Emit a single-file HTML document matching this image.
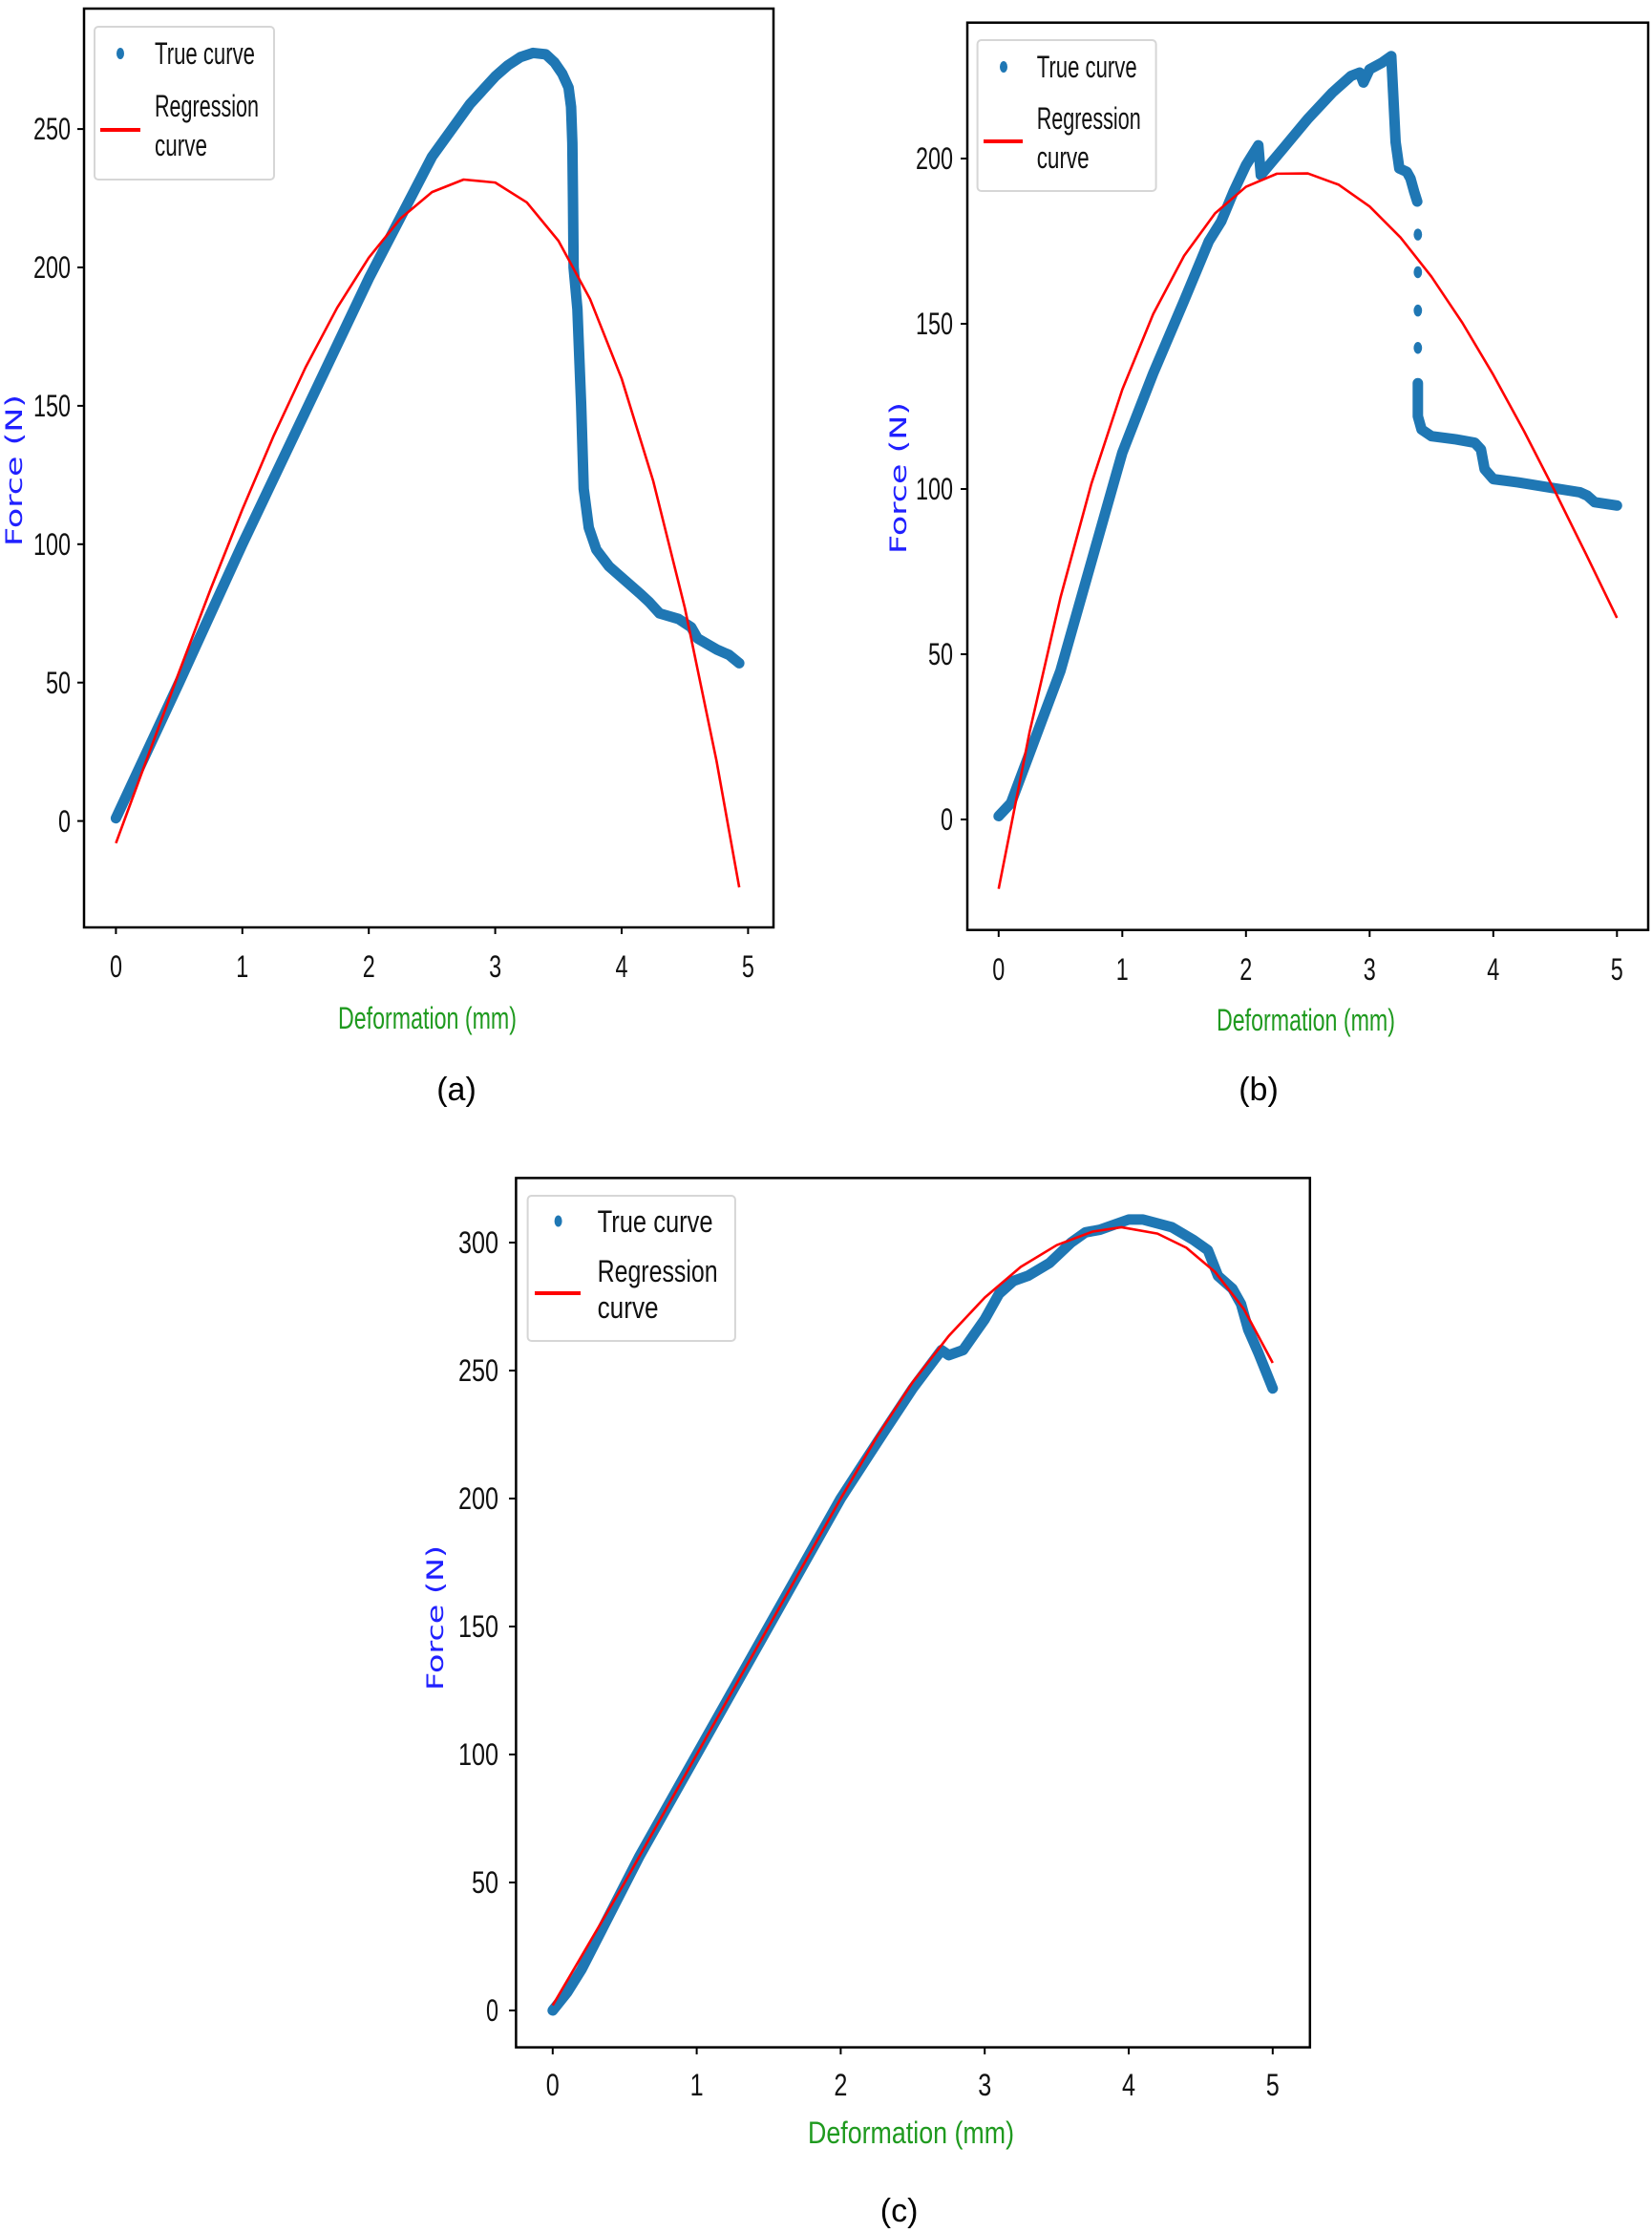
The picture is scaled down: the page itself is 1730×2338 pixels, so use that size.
<!DOCTYPE html>
<html><head><meta charset="utf-8"><style>
html,body{margin:0;padding:0;background:#fff;}
svg{display:block;}
.t{font-family:"Liberation Sans",sans-serif;font-size:32px;fill:#111;}
.yl{font-family:"DejaVu Sans","Liberation Sans",sans-serif;font-size:24px;fill:#2020ff;}
.xl{font-family:"Liberation Sans",sans-serif;font-size:32px;fill:#1f9a1f;}
.cap{font-family:"Liberation Sans",sans-serif;font-size:34px;fill:#000;}
.b{fill:none;stroke:#1f77b4;stroke-width:11;stroke-linejoin:round;stroke-linecap:round;}
.r{fill:none;stroke:#ff0000;stroke-width:2.6;stroke-linejoin:round;}
.ns{vector-effect:non-scaling-stroke;}
</style></head><body>
<svg width="1730" height="2338" viewBox="0 0 1730 2338" xmlns="http://www.w3.org/2000/svg">
<rect width="1730" height="2338" fill="#fff"/>

<!-- ===== Panel A ===== -->
<g transform="translate(121.4,859.6) scale(132.4,-2.898)">
<polyline class="b ns" points="0,1 0.5,50 1,100 1.5,148 2,196 2.5,240 2.8,259 3.0,269 3.1,273 3.2,276 3.3,277.5 3.4,277 3.47,274 3.53,270 3.58,265 3.6,258 3.61,245 3.615,225 3.62,200 3.65,185 3.68,150 3.7,120 3.74,106 3.8,98 3.9,92 4,88 4.15,82 4.22,79 4.3,75 4.45,73 4.55,70 4.6,66 4.75,62 4.85,60 4.93,57"/>
<polyline class="r ns" points="0,-8 0.25,23.05 0.5,53.86 0.75,83.88 1,112.57 1.25,139.43 1.5,163.9 1.75,185.44 2,203.53 2.25,217.64 2.5,227.21 2.75,231.74 3,230.67 3.25,223.48 3.5,209.62 3.75,188.59 4,159.82 4.25,122.79 4.5,76.96 4.75,21.81 4.93,-24"/>
</g>
<rect x="88" y="9" width="722" height="962" fill="none" stroke="#000" stroke-width="2.5"/>
<g stroke="#000" stroke-width="2">
<line x1="81" y1="859.6" x2="88" y2="859.6"/><line x1="81" y1="714.7" x2="88" y2="714.7"/><line x1="81" y1="569.8" x2="88" y2="569.8"/><line x1="81" y1="424.9" x2="88" y2="424.9"/><line x1="81" y1="280" x2="88" y2="280"/><line x1="81" y1="135.1" x2="88" y2="135.1"/>
<line x1="121.4" y1="971" x2="121.4" y2="978"/><line x1="253.8" y1="971" x2="253.8" y2="978"/><line x1="386.2" y1="971" x2="386.2" y2="978"/><line x1="518.6" y1="971" x2="518.6" y2="978"/><line x1="651" y1="971" x2="651" y2="978"/><line x1="783.4" y1="971" x2="783.4" y2="978"/>
</g>
<g class="t" text-anchor="end">
<text x="74" y="871" textLength="13" lengthAdjust="spacingAndGlyphs">0</text>
<text x="74" y="726" textLength="26" lengthAdjust="spacingAndGlyphs">50</text>
<text x="74" y="581" textLength="39" lengthAdjust="spacingAndGlyphs">100</text>
<text x="74" y="436" textLength="39" lengthAdjust="spacingAndGlyphs">150</text>
<text x="74" y="291" textLength="39" lengthAdjust="spacingAndGlyphs">200</text>
<text x="74" y="146" textLength="39" lengthAdjust="spacingAndGlyphs">250</text>
</g>
<g class="t">
<text x="115" y="1023" textLength="13" lengthAdjust="spacingAndGlyphs">0</text><text x="247.3" y="1023" textLength="13" lengthAdjust="spacingAndGlyphs">1</text><text x="379.7" y="1023" textLength="13" lengthAdjust="spacingAndGlyphs">2</text><text x="512.1" y="1023" textLength="13" lengthAdjust="spacingAndGlyphs">3</text><text x="644.5" y="1023" textLength="13" lengthAdjust="spacingAndGlyphs">4</text><text x="776.9" y="1023" textLength="13" lengthAdjust="spacingAndGlyphs">5</text>
</g>
<text class="xl" x="354" y="1077" textLength="187" lengthAdjust="spacingAndGlyphs">Deformation (mm)</text>
<text class="yl" transform="translate(23,572) rotate(-90)" textLength="159" lengthAdjust="spacingAndGlyphs">Force (N)</text>
<text class="cap" x="478" y="1152" text-anchor="middle">(a)</text>
<rect x="99" y="28" width="188" height="160" rx="4" fill="#fff" stroke="#d6d6d6" stroke-width="2"/>
<ellipse cx="126" cy="56" rx="4" ry="6" fill="#1f77b4"/>
<line x1="105" y1="136" x2="147" y2="136" stroke="#ff0000" stroke-width="4"/>
<g class="t"><text x="162" y="67" textLength="105" lengthAdjust="spacingAndGlyphs">True curve</text>
<text x="162" y="122" textLength="109" lengthAdjust="spacingAndGlyphs">Regression</text>
<text x="162" y="163" textLength="55" lengthAdjust="spacingAndGlyphs">curve</text></g>

<!-- ===== Panel B ===== -->
<g transform="translate(1045.8,858) scale(129.5,-3.46)">
<polyline class="b ns" points="0,1 0.1,5 0.25,20 0.5,45 0.75,78 1,111 1.25,135 1.5,157 1.7,175 1.8,181 1.9,190 2,198 2.1,204 2.12,195 2.3,203 2.5,212 2.7,220 2.85,225 2.92,226 2.95,223 3.0,227 3.1,229 3.175,231 3.19,220 3.21,205 3.24,197 3.3,196 3.33,194 3.36,190 3.385,187"/>
<polyline class="b ns" points="3.39,132 3.39,122 3.42,118 3.5,116 3.7,115 3.85,114 3.9,112 3.93,106 4.0,103 4.2,102 4.45,100.5 4.7,99 4.76,98 4.82,96 5.0,95"/>
<g fill="#1f77b4"><ellipse cx="3.39" cy="177" rx="0.034" ry="1.8"/><ellipse cx="3.39" cy="165.6" rx="0.034" ry="1.8"/><ellipse cx="3.39" cy="154" rx="0.034" ry="1.8"/><ellipse cx="3.39" cy="142.7" rx="0.034" ry="1.8"/></g>
<polyline class="r ns" points="0,-21 0.25,26.41 0.5,67.16 0.75,101.6 1,130.09 1.25,152.97 1.5,170.59 1.75,183.41 2,191.46 2.25,195.41 2.5,195.5 2.75,192.08 3,185.5 3.25,176.11 3.5,164.25 3.75,150.29 4,134.55 4.25,117.41 4.5,99.2 4.75,80.29 5,61"/>
</g>
<rect x="1013" y="23.7" width="713" height="950" fill="none" stroke="#000" stroke-width="2.5"/>
<g stroke="#000" stroke-width="2">
<line x1="1006" y1="858" x2="1013" y2="858"/><line x1="1006" y1="685" x2="1013" y2="685"/><line x1="1006" y1="512" x2="1013" y2="512"/><line x1="1006" y1="339" x2="1013" y2="339"/><line x1="1006" y1="166" x2="1013" y2="166"/>
<line x1="1045.8" y1="974" x2="1045.8" y2="981"/><line x1="1175.3" y1="974" x2="1175.3" y2="981"/><line x1="1304.8" y1="974" x2="1304.8" y2="981"/><line x1="1434.3" y1="974" x2="1434.3" y2="981"/><line x1="1563.8" y1="974" x2="1563.8" y2="981"/><line x1="1693.3" y1="974" x2="1693.3" y2="981"/>
</g>
<g class="t" text-anchor="end">
<text x="998" y="869" textLength="13" lengthAdjust="spacingAndGlyphs">0</text>
<text x="998" y="696" textLength="26" lengthAdjust="spacingAndGlyphs">50</text>
<text x="998" y="523" textLength="39" lengthAdjust="spacingAndGlyphs">100</text>
<text x="998" y="350" textLength="39" lengthAdjust="spacingAndGlyphs">150</text>
<text x="998" y="177" textLength="39" lengthAdjust="spacingAndGlyphs">200</text>
</g>
<g class="t">
<text x="1039.3" y="1026" textLength="13" lengthAdjust="spacingAndGlyphs">0</text><text x="1168.8" y="1026" textLength="13" lengthAdjust="spacingAndGlyphs">1</text><text x="1298.3" y="1026" textLength="13" lengthAdjust="spacingAndGlyphs">2</text><text x="1427.8" y="1026" textLength="13" lengthAdjust="spacingAndGlyphs">3</text><text x="1557.3" y="1026" textLength="13" lengthAdjust="spacingAndGlyphs">4</text><text x="1686.8" y="1026" textLength="13" lengthAdjust="spacingAndGlyphs">5</text>
</g>
<text class="xl" x="1274" y="1079" textLength="187" lengthAdjust="spacingAndGlyphs">Deformation (mm)</text>
<text class="yl" transform="translate(949,580) rotate(-90)" textLength="159" lengthAdjust="spacingAndGlyphs">Force (N)</text>
<text class="cap" x="1318" y="1152" text-anchor="middle">(b)</text>
<rect x="1023.6" y="42" width="187" height="158" rx="4" fill="#fff" stroke="#d6d6d6" stroke-width="2"/>
<ellipse cx="1051" cy="70" rx="4" ry="6" fill="#1f77b4"/>
<line x1="1030" y1="148" x2="1071" y2="148" stroke="#ff0000" stroke-width="4"/>
<g class="t"><text x="1085.7" y="81" textLength="105" lengthAdjust="spacingAndGlyphs">True curve</text>
<text x="1085.7" y="135" textLength="109" lengthAdjust="spacingAndGlyphs">Regression</text>
<text x="1085.7" y="176" textLength="55" lengthAdjust="spacingAndGlyphs">curve</text></g>

<!-- ===== Panel C ===== -->
<g transform="translate(578.8,2105) scale(150.8,-2.68)">
<polyline class="b ns" points="0,0 0.1,7 0.2,16 0.4,38 0.6,60 0.8,80 1,100 1.5,150 2,200 2.3,226 2.5,243 2.7,258 2.75,256 2.85,258 3.0,270 3.1,280 3.2,285 3.3,287 3.45,292 3.6,300 3.7,304 3.8,305 4.0,309 4.1,309 4.3,306 4.45,301 4.55,297 4.62,287 4.72,282 4.78,276 4.83,266 4.9,257 5.0,243"/>
<polyline class="r ns" points="0,2 0.5,50 1,100 1.5,150 2,200 2.25,224 2.5,245.5 2.75,263.5 3,278.5 3.25,290.5 3.5,299 3.75,304.3 3.95,306 4.2,303.5 4.4,298 4.6,288.5 4.8,274 5,253"/>
</g>
<rect x="540.4" y="1233.4" width="831.4" height="910.2" fill="none" stroke="#000" stroke-width="2.5"/>
<g stroke="#000" stroke-width="2">
<line x1="533" y1="2105" x2="540.4" y2="2105"/><line x1="533" y1="1971" x2="540.4" y2="1971"/><line x1="533" y1="1837" x2="540.4" y2="1837"/><line x1="533" y1="1703" x2="540.4" y2="1703"/><line x1="533" y1="1569" x2="540.4" y2="1569"/><line x1="533" y1="1435" x2="540.4" y2="1435"/><line x1="533" y1="1301" x2="540.4" y2="1301"/>
<line x1="578.8" y1="2143.6" x2="578.8" y2="2151"/><line x1="729.6" y1="2143.6" x2="729.6" y2="2151"/><line x1="880.4" y1="2143.6" x2="880.4" y2="2151"/><line x1="1031.2" y1="2143.6" x2="1031.2" y2="2151"/><line x1="1182" y1="2143.6" x2="1182" y2="2151"/><line x1="1332.8" y1="2143.6" x2="1332.8" y2="2151"/>
</g>
<g class="t" text-anchor="end">
<text x="522" y="2116" textLength="13" lengthAdjust="spacingAndGlyphs">0</text>
<text x="522" y="1982" textLength="28" lengthAdjust="spacingAndGlyphs">50</text>
<text x="522" y="1848" textLength="42" lengthAdjust="spacingAndGlyphs">100</text>
<text x="522" y="1714" textLength="42" lengthAdjust="spacingAndGlyphs">150</text>
<text x="522" y="1580" textLength="42" lengthAdjust="spacingAndGlyphs">200</text>
<text x="522" y="1446" textLength="42" lengthAdjust="spacingAndGlyphs">250</text>
<text x="522" y="1312" textLength="42" lengthAdjust="spacingAndGlyphs">300</text>
</g>
<g class="t">
<text x="571.8" y="2194" textLength="14" lengthAdjust="spacingAndGlyphs">0</text><text x="722.6" y="2194" textLength="14" lengthAdjust="spacingAndGlyphs">1</text><text x="873.4" y="2194" textLength="14" lengthAdjust="spacingAndGlyphs">2</text><text x="1024.2" y="2194" textLength="14" lengthAdjust="spacingAndGlyphs">3</text><text x="1175" y="2194" textLength="14" lengthAdjust="spacingAndGlyphs">4</text><text x="1325.8" y="2194" textLength="14" lengthAdjust="spacingAndGlyphs">5</text>
</g>
<text class="xl" x="846" y="2244" textLength="216" lengthAdjust="spacingAndGlyphs">Deformation (mm)</text>
<text class="yl" transform="translate(464,1770) rotate(-90)" textLength="152" lengthAdjust="spacingAndGlyphs">Force (N)</text>
<text class="cap" x="941.6" y="2326" text-anchor="middle">(c)</text>
<rect x="552.6" y="1252" width="217.3" height="152" rx="4" fill="#fff" stroke="#d6d6d6" stroke-width="2"/>
<ellipse cx="584.6" cy="1278.5" rx="4" ry="6" fill="#1f77b4"/>
<line x1="560" y1="1354" x2="608" y2="1354" stroke="#ff0000" stroke-width="4"/>
<g class="t"><text x="625.6" y="1290" textLength="121" lengthAdjust="spacingAndGlyphs">True curve</text>
<text x="625.6" y="1342" textLength="126" lengthAdjust="spacingAndGlyphs">Regression</text>
<text x="625.6" y="1380" textLength="64" lengthAdjust="spacingAndGlyphs">curve</text></g>
</svg>
</body></html>
